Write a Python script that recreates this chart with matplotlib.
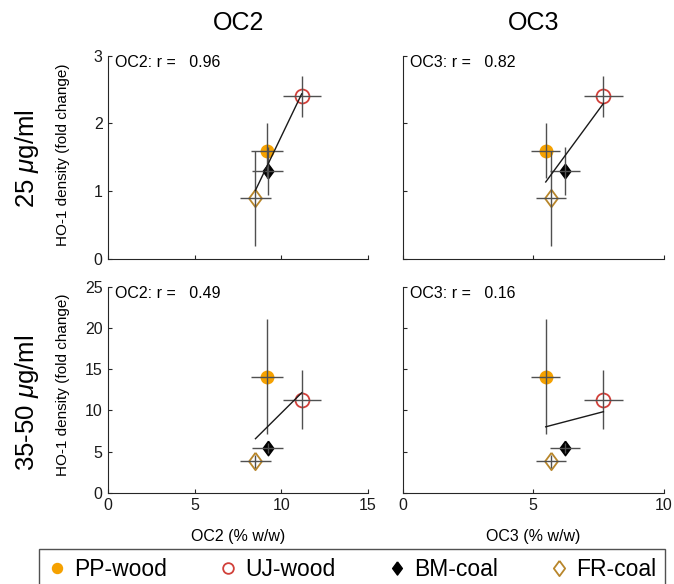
import numpy as np
import matplotlib
matplotlib.use("Agg")
import matplotlib.pyplot as plt
from matplotlib.lines import Line2D

plt.rcParams['font.family'] = ['Liberation Sans', 'DejaVu Sans']
plt.rcParams['mathtext.fontset'] = 'custom'
plt.rcParams['mathtext.it'] = 'Liberation Sans:italic'
plt.rcParams['mathtext.rm'] = 'Liberation Sans'

# samples, in legend order
samples = ['PP-wood', 'UJ-wood', 'BM-coal', 'FR-coal']

# organic carbon fractions (% w/w) and their errors
oc2 = [9.15, 11.17, 9.2, 8.5]
oc2_err = [0.92, 1.1, 0.91, 0.87]
oc3 = [5.48, 7.69, 6.22, 5.68]
oc3_err = [0.56, 0.75, 0.59, 0.56]

# HO-1 density (fold change) at the two doses
ho1_25 = [1.6, 2.4, 1.3, 0.9]
ho1_25_err = [0.4, 0.3, 0.35, 0.7]
ho1_35 = [14.1, 11.3, 5.4, 3.8]
ho1_35_err = [7.0, 3.6, 0.6, 0.8]

r_text = [['0.96', '0.82'], ['0.49', '0.16']]

# marker styles
diamond = [(0, 1), (0.74, 0), (0, -1), (-0.74, 0), (0, 1)]
styles = [
    dict(marker='o', ms=9, mfc='#F5A100', mec='#F5A100'),
    dict(marker='o', ms=10, mfc='none', mec='#D1403A', mew=1.3),
    dict(marker=diamond, ms=10.5, mfc='black', mec='black'),
    dict(marker=diamond, ms=12.5, mfc='none', mec='#B8862B', mew=1.3),
]

W, H = 674, 584
fig = plt.figure(figsize=(W / 100, H / 100), dpi=100)


def rect(x0, x1, ytop, ybot):
    return [x0 / W, 1 - ybot / H, (x1 - x0) / W, (ybot - ytop) / H]


cols = [(108.3, 368.0), (402.7, 663.7)]
rows = [(55.5, 259.3), (286.7, 492.7)]

xdata = [(oc2, oc2_err, 15, [0, 5, 10, 15]), (oc3, oc3_err, 10, [0, 5, 10])]
ydata = [(ho1_25, ho1_25_err, 3, [0, 1, 2, 3]),
         (ho1_35, ho1_35_err, 25, [0, 5, 10, 15, 20, 25])]
col_names = ['OC2', 'OC3']

for i, (yv, ye, ymax, yt) in enumerate(ydata):
    for j, (xv, xe, xmax, xt) in enumerate(xdata):
        ax = fig.add_axes(rect(cols[j][0], cols[j][1], rows[i][0], rows[i][1]))
        for k in range(4):
            ax.plot(xv[k], yv[k], linestyle='none', zorder=2, **styles[k])
        ax.errorbar(xv, yv, xerr=xe, yerr=ye, fmt='none', ecolor='#505050',
                    elinewidth=1.0, capsize=0, zorder=3)
        # least-squares line over the data range
        p = np.polyfit(xv, yv, 1)
        xx = np.array([min(xv), max(xv)])
        ax.plot(xx, np.polyval(p, xx), color='#1a1a1a', lw=1.0, zorder=4)

        ax.set_xlim(0, xmax)
        ax.set_ylim(0, ymax)
        ax.set_xticks(xt)
        ax.set_yticks(yt)
        for s in ['top', 'right']:
            ax.spines[s].set_visible(False)
        for s in ['left', 'bottom']:
            ax.spines[s].set_color('#262626')
            ax.spines[s].set_linewidth(0.8)
        ax.tick_params(direction='in', length=3, width=0.8, colors='#262626',
                       labelsize=11.5, labelcolor='#1a1a1a', pad=4)
        if j == 1:
            ax.set_yticklabels([])
        if i == 0:
            ax.set_xticklabels([])
        ax.text(0.027, 0.965, col_names[j] + ': r =   ' + r_text[i][j],
                transform=ax.transAxes, ha='left', va='center', fontsize=11.5)

# column titles
for j, name in enumerate(col_names):
    xc = (cols[j][0] + cols[j][1]) / 2 / W
    fig.text(xc, 1 - 23 / H, name, ha='center', va='center', fontsize=18)
    fig.text(xc, 1 - 537 / H, name + ' (% w/w)', ha='center', va='center',
             fontsize=11.5)

# row labels
fig.text(27 / W, 1 - 159 / H, r'25 $\mu$g/ml', rotation=90, ha='center',
         va='center', fontsize=18.5)
fig.text(27 / W, 1 - 403 / H, r'35-50 $\mu$g/ml', rotation=90, ha='center',
         va='center', fontsize=18.5)
for yc in [155, 385]:
    fig.text(63 / W, 1 - yc / H, 'HO-1 density (fold change)', rotation=90,
             ha='center', va='center', fontsize=11)

# legend, spread across the bottom
handles = []
leg_sizes = [7.2, 7.7, 9.5, 11]
for k in range(4):
    st = dict(styles[k])
    st['ms'] = leg_sizes[k]
    handles.append(Line2D([], [], linestyle='none', **st))
leg = fig.legend(handles, samples, loc='upper left',
                 bbox_to_anchor=(39 / W, 0, 626 / W, 1 - 549 / H),
                 mode='expand', ncol=4, fontsize=16.5,
                 frameon=True, fancybox=False, edgecolor='#262626',
                 borderaxespad=0, handletextpad=0.34,
                 handlelength=0.8, borderpad=0.4)
leg.get_frame().set_linewidth(1.0)

fig.savefig('out.png', dpi=100)
